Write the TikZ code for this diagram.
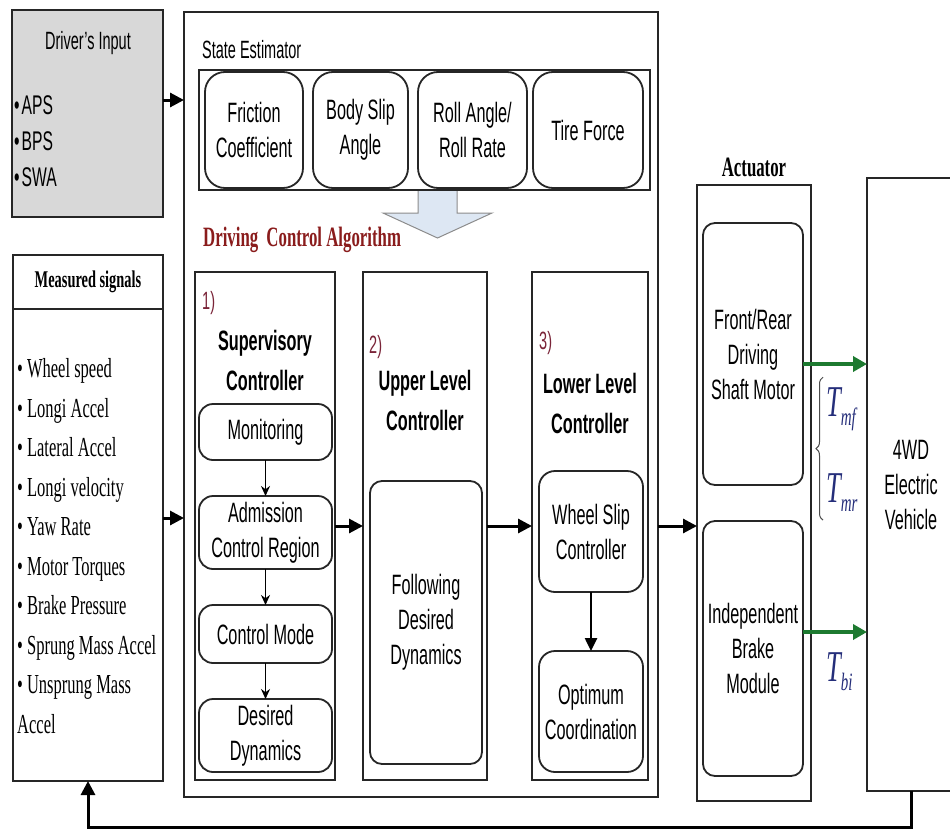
\documentclass[tikz,border=0pt]{standalone}
\usepackage{fontspec}
\setmainfont{Liberation Serif}[FakeStretch=0.6]
\setsansfont{Liberation Sans}[FakeStretch=0.58]
\usetikzlibrary{positioning,arrows.meta,decorations.pathreplacing}
\definecolor{inputgray}{HTML}{D8D8D8}
\definecolor{algored}{HTML}{8A1C1C}
\definecolor{tagred}{HTML}{7A2438}
\definecolor{torqueblue}{HTML}{252E7A}
\definecolor{shaftgreen}{HTML}{1D7A30}
\definecolor{hintblue}{HTML}{DDE7F3}

\begin{document}
\begin{tikzpicture}[x=1pt, y=-1pt,
    frame/.style = {draw=black!85, line width=2.2pt, inner sep=0pt, outer sep=0pt},
    pill/.style = {draw=black!85, line width=1.8pt, rounded corners=#1, inner sep=0pt, outer sep=0pt,
                   align=center, font=\sffamily\fontsize{28}{35}\selectfont},
    pill/.default = 14pt,
    heading/.style = {inner sep=0pt, align=center, font=\sffamily\bfseries\fontsize{28}{40}\selectfont},
    tag/.style = {inner sep=0pt, anchor=west, font=\sffamily\fontsize{25}{25}\selectfont},
    flow/.style = {line width=3pt, -{Triangle[length=14pt,width=14pt]}},
    substep/.style = {line width=1.6pt, -{Stealth[length=10pt,width=9pt]}},
    torque/.style = {draw=shaftgreen, line width=3.5pt, -{Triangle[length=14pt,width=15pt]}},
    tlabel/.style = {inner sep=0pt, anchor=west, text=torqueblue, font=\rmfamily\itshape\fontsize{44}{44}\selectfont}]
\clip (0,0) rectangle (950,838);
\fill[white] (0,0) rectangle (950,838);

% driver's input
\node[frame, fill=inputgray, minimum width=151pt, minimum height=207pt] (driver) at (87.5,113.5) {};
\node[inner sep=0pt, font=\sffamily\fontsize{25}{25}\selectfont] (drivertitle) at (88,43) {Driver's Input};
\node[inner sep=0pt, anchor=west, align=left, font=\sffamily\fontsize{27}{36}\selectfont] (driverlist) at (14,141)
    {•\hspace{2pt}APS\\•\hspace{2pt}BPS\\•\hspace{2pt}SWA};

% measured signals
\node[frame, minimum width=150pt, minimum height=54pt] (measuredhead) at (88,282) {};
\node[inner sep=0pt, font=\rmfamily\bfseries\fontsize{24}{24}\selectfont] (measuredtitle) at (measuredhead) {Measured signals};
\node[frame, minimum width=150pt, minimum height=472pt] (measured) at (88,545) {};
\node[inner sep=0pt, anchor=west, align=left, font=\rmfamily\fontsize{27.5}{39.5}\selectfont] (signals) at (17,546)
    {• Wheel speed\\• Longi Accel\\• Lateral Accel\\• Longi velocity\\• Yaw Rate\\• Motor Torques\\
     • Brake Pressure\\• Sprung Mass Accel\\• Unsprung Mass\\Accel};

% state estimator
\node[frame, minimum width=474pt, minimum height=785pt] (main) at (421,404.5) {};
\node[tag] (estimatortitle) at (202,50) {State Estimator};
\node[draw=black!85, line width=2pt, inner sep=0pt, minimum width=451pt, minimum height=120pt] (estimator) at (424.5,130) {};
\node[pill=20pt, minimum width=98pt, minimum height=116pt] (friction) at (254,130) {Friction\\Coefficient};
\node[pill=20pt, minimum width=95pt, minimum height=116pt] (bodyslip) at (360.5,130) {Body Slip\\Angle};
\node[pill=20pt, minimum width=109pt, minimum height=116pt] (rollangle) at (472.5,130) {Roll Angle/\\Roll Rate};
\node[pill=20pt, minimum width=110pt, minimum height=116pt] (tireforce) at (588,130) {Tire Force};
\filldraw[fill=hintblue, draw=black!45, line width=1pt]
    (418,191) -- (418,213) -- (383,213) -- (437.5,238) -- (492,213) -- (457,213) -- (457,191);
\node[inner sep=0pt, anchor=west, text=algored, font=\rmfamily\bfseries\fontsize{28}{28}\selectfont] (algotitle) at (203,240)
    {Driving\hspace{4pt} Control Algorithm};

% 1) supervisory controller
\node[frame, minimum width=140pt, minimum height=508pt] (supervisory) at (265,526) {};
\node[tag, text=tagred] (tagone) at (202,303) {1)};
\node[heading] (supervisorytitle) at (265,360) {Supervisory\\Controller};
\node[pill, minimum width=133pt, minimum height=56pt] (monitoring) at (265.5,432) {Monitoring};
\node[pill, minimum width=133pt, minimum height=73pt] (admission) at (265.5,532.5) {Admission\\Control Region};
\node[pill, minimum width=133pt, minimum height=58pt] (ctrlmode) at (265.5,634) {Control Mode};
\node[pill, minimum width=133pt, minimum height=73pt] (desireddyn) at (265.5,735.5) {Desired\\Dynamics};

% 2) upper level controller
\node[frame, minimum width=124pt, minimum height=508pt] (upper) at (425,526) {};
\node[tag, text=tagred] (tagtwo) at (369,347) {2)};
\node[heading] (uppertitle) at (425,400) {Upper Level\\Controller};
\node[pill=12pt, minimum width=112pt, minimum height=283pt] (following) at (426,622.5) {Following\\Desired\\Dynamics};

% 3) lower level controller
\node[frame, minimum width=116pt, minimum height=508pt] (lower) at (590,526) {};
\node[tag, text=tagred] (tagthree) at (539,343) {3)};
\node[heading] (lowertitle) at (590,403) {Lower Level\\Controller};
\node[pill=16pt, minimum width=104pt, minimum height=121pt] (wheelslip) at (591,531.5) {Wheel Slip\\Controller};
\node[pill=16pt, minimum width=104pt, minimum height=121pt] (optimum) at (591,711.5) {Optimum\\Coordination};

% actuator
\node[inner sep=0pt, font=\rmfamily\bfseries\fontsize{28}{28}\selectfont] (actuatortitle) at (754,167) {Actuator};
\node[frame, minimum width=114pt, minimum height=616pt] (actuator) at (754,493) {};
\node[pill=12pt, minimum width=100pt, minimum height=262pt] (frontrear) at (753,354) {Front/Rear\\Driving\\Shaft Motor};
\node[pill=12pt, minimum width=100pt, minimum height=255pt] (brake) at (753,648.5) {Independent\\Brake\\Module};

% vehicle
\node[frame, minimum width=88pt, minimum height=613pt] (vehicle) at (911,484.5) {};
\node[inner sep=0pt, align=center, font=\sffamily\fontsize{28}{35}\selectfont] (vehicletext) at (911,485) {4WD\\Electric\\Vehicle};

% torques
\node[tlabel] (tmf) at (826,409) {T\raisebox{-9pt}{\fontsize{25}{25}\selectfont mf}};
\node[tlabel] (tmr) at (826,493) {T\raisebox{-9pt}{\fontsize{25}{25}\selectfont mr}};
\node[tlabel] (tbi) at (826,672) {T\raisebox{-9pt}{\fontsize{25}{25}\selectfont bi}};
\draw[draw=black!70, line width=1pt, decorate, decoration={brace, amplitude=7pt}]
    ([xshift=-3pt,yshift=-8pt]tmr.south west) -- ([xshift=-3pt,yshift=10pt]tmf.north west);

% connectors
\draw[flow] ([yshift=13.5pt]driver.east) -- ([yshift=13.5pt]driver.east -| main.west);
\draw[flow] ([yshift=27pt]measured.east) -- ([yshift=27pt]measured.east -| main.west);
\draw[flow] (supervisory.east) -- (upper.west);
\draw[flow] (upper.east) -- (lower.west);
\draw[flow] (main.east |- lower.east) -- (actuator.west |- lower.east);
\draw[substep] (monitoring) -- (admission);
\draw[substep] (admission) -- (ctrlmode);
\draw[substep] (ctrlmode) -- (desireddyn);
\draw[line width=2.5pt, -{Triangle[length=13pt,width=12pt]}] (wheelslip) -- (optimum);
\draw[torque] ([yshift=-10pt]frontrear.east) -- ([yshift=-10pt]frontrear.east -| vehicle.west);
\draw[torque] ([yshift=16.5pt]brake.east) -- ([yshift=16.5pt]brake.east -| vehicle.west);
\draw[flow] (vehicle.south) -- ++(0,36) -| (measured.south);
\end{tikzpicture}
\end{document}
